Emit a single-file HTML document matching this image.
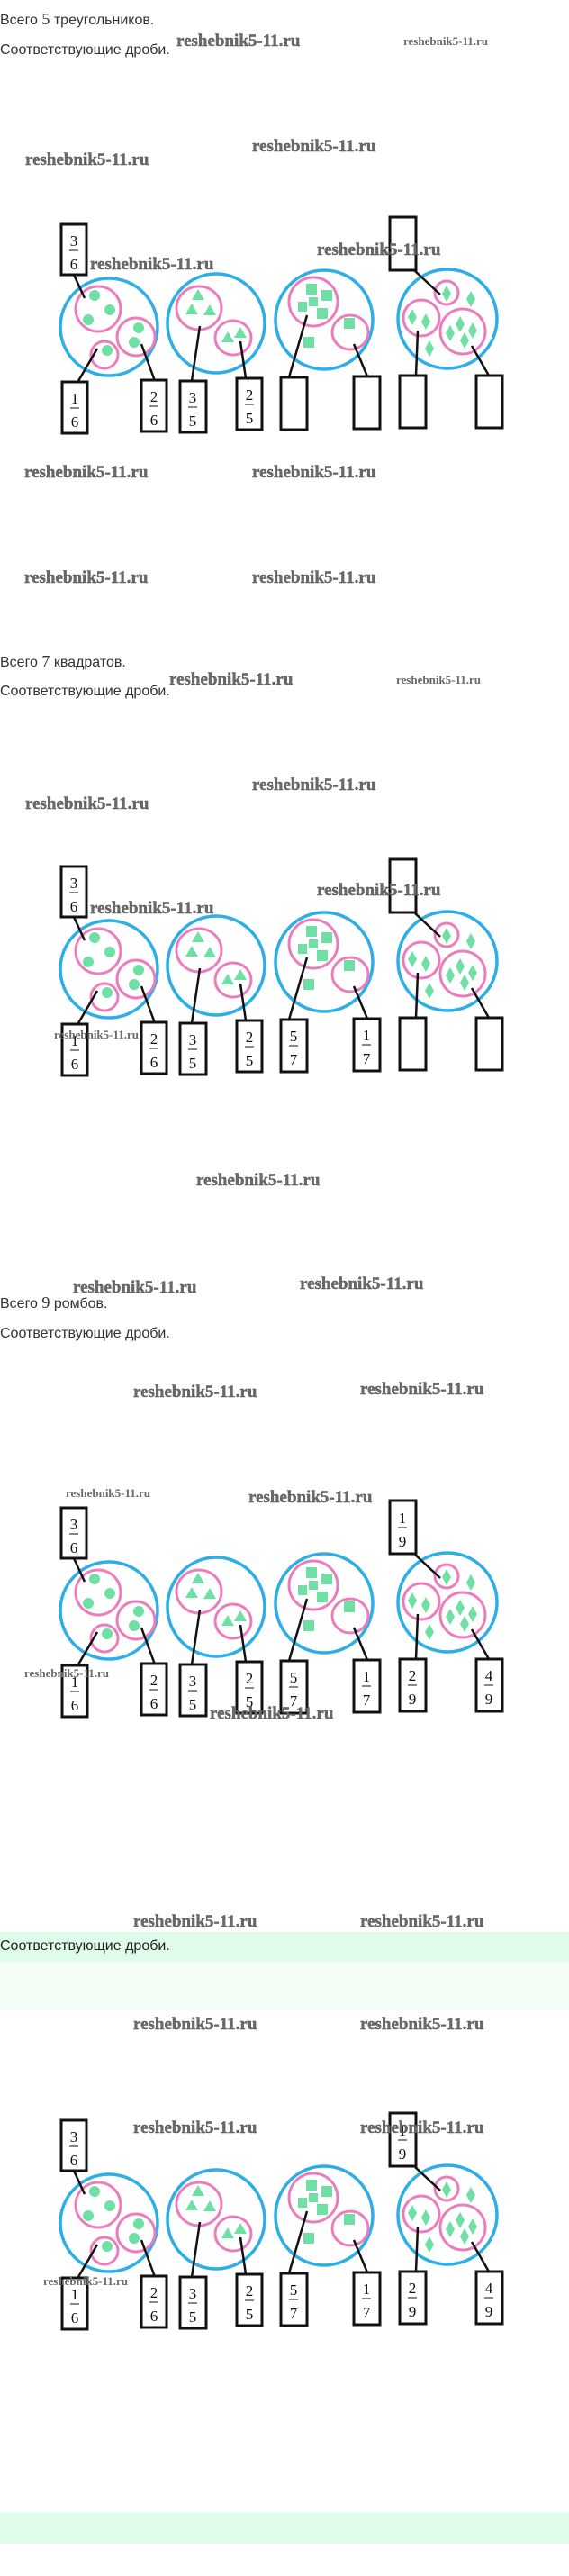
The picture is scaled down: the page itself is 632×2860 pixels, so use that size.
<!DOCTYPE html>
<html><head><meta charset="utf-8"><style>
html,body{margin:0;padding:0;background:#fff;}
svg{display:block;}
.h{font-family:"Liberation Sans","DejaVu Sans",sans-serif;font-size:16px;fill:#333;}
.n{font-family:"Liberation Serif",serif;font-size:18px;}
.wl{font-family:"Liberation Serif",serif;font-weight:bold;font-size:19px;fill:#6a6a6a;stroke:#555;stroke-width:0.4;}
.ws{font-family:"Liberation Serif",serif;font-weight:bold;font-size:13px;fill:#6a6a6a;}
.f{font-family:"Liberation Serif",serif;font-size:17px;fill:#111;text-anchor:middle;}
</style></head><body>
<svg width="632" height="2860" viewBox="0 0 632 2860" xmlns="http://www.w3.org/2000/svg">
<defs>
<g id="art">
  <g fill="none" stroke="#2eaee6" stroke-width="3.5">
    <ellipse cx="121" cy="0" rx="54" ry="54"/>
    <ellipse cx="240" cy="-4" rx="54" ry="55"/>
    <ellipse cx="360" cy="-8" rx="54" ry="55"/>
    <ellipse cx="497" cy="-9" rx="55" ry="55"/>
  </g>
  <g fill="none" stroke="#ec7dbd" stroke-width="3">
    <ellipse cx="109" cy="-20" rx="25" ry="25"/>
    <ellipse cx="151" cy="11" rx="21" ry="21"/>
    <ellipse cx="116" cy="31" rx="15" ry="15"/>
    <ellipse cx="221" cy="-21" rx="25" ry="24"/>
    <ellipse cx="259" cy="12" rx="20" ry="19"/>
    <ellipse cx="348" cy="-28" rx="27" ry="27"/>
    <ellipse cx="389" cy="6" rx="20" ry="19"/>
    <ellipse cx="496" cy="-38" rx="13" ry="13"/>
    <ellipse cx="468" cy="-10" rx="20" ry="20"/>
    <ellipse cx="514" cy="5" rx="25" ry="25"/>
  </g>
  <g fill="#6fe0a3">
    <circle cx="105" cy="-35" r="6"/><circle cx="122" cy="-19" r="6"/><circle cx="98" cy="-8" r="6"/>
    <circle cx="154" cy="1" r="6"/><circle cx="149" cy="17" r="6"/><circle cx="119" cy="26" r="6"/>
    <polygon points="220,-42 227,-30 213,-30"/><polygon points="213,-26 220,-14 206,-14"/><polygon points="233,-25 240,-13 226,-13"/>
    <polygon points="253,5 260,17 246,17"/><polygon points="267,0 274,12 260,12"/>
    <rect x="340" y="-48" width="12" height="12"/><rect x="357" y="-41" width="12" height="12"/>
    <rect x="343" y="-33" width="10" height="10"/><rect x="331" y="-28" width="10" height="11"/>
    <rect x="352" y="-21" width="12" height="12"/><rect x="337" y="11" width="12" height="12"/>
    <rect x="382" y="-10" width="12" height="12"/>
    <polygon points="496,-46 501,-37 496,-28 491,-37"/><polygon points="523,-40 528,-31 523,-22 518,-31"/>
    <polygon points="458,-20 463,-11 458,-2 453,-11"/><polygon points="473,-15 478,-6 473,3 468,-6"/>
    <polygon points="477,15 482,24 477,33 472,24"/><polygon points="500,-2 505,7 500,16 495,7"/>
    <polygon points="511,-12 516,-3 511,6 506,-3"/><polygon points="525,-5 530,4 525,13 520,4"/>
    <polygon points="516,6 521,15 516,24 511,15"/>
  </g>
  <g stroke="#111" stroke-width="2.5" fill="none">
    <line x1="82" y1="-58" x2="94" y2="-32"/>
    <line x1="108" y1="24" x2="87" y2="60"/>
    <line x1="157" y1="19" x2="172" y2="60"/>
    <line x1="222" y1="-1" x2="213" y2="60"/>
    <line x1="267" y1="16" x2="273" y2="57"/>
    <line x1="341" y1="-13" x2="321" y2="56"/>
    <line x1="393" y1="19" x2="408" y2="55"/>
    <line x1="460" y1="-63" x2="489" y2="-36"/>
    <line x1="464" y1="4" x2="462" y2="54"/>
    <line x1="524" y1="21" x2="543" y2="54"/>
  </g>
  <g stroke="#111" stroke-width="3" fill="#fff">
    <rect x="68" y="-114" width="28" height="56"/>
    <rect x="433" y="-122" width="29" height="59"/>
    <rect x="69" y="61" width="28" height="57"/>
    <rect x="157" y="59" width="28" height="57"/>
    <rect x="200" y="60" width="29" height="57"/>
    <rect x="263" y="57" width="28" height="57"/>
    <rect x="312" y="56" width="29" height="58"/>
    <rect x="393" y="55" width="29" height="58"/>
    <rect x="444" y="54" width="29" height="58"/>
    <rect x="529" y="54" width="29" height="58"/>
  </g>
</g>
<g id="fa">
  <g class="f">
    <text x="82" y="-90">3</text><text x="82" y="-64">6</text>
    <text x="83" y="85">1</text><text x="83" y="111">6</text>
    <text x="171" y="83">2</text><text x="171" y="109">6</text>
    <text x="214" y="84">3</text><text x="214" y="110">5</text>
    <text x="277" y="81">2</text><text x="277" y="107">5</text>
  </g>
  <g stroke="#111" stroke-width="1">
    <line x1="77" y1="-85" x2="87" y2="-85"/><line x1="78" y1="90" x2="88" y2="90"/>
    <line x1="166" y1="88" x2="176" y2="88"/><line x1="209" y1="89" x2="219" y2="89"/>
    <line x1="272" y1="86" x2="282" y2="86"/>
  </g>
</g>
<g id="fb">
  <g class="f">
    <text x="326" y="80">5</text><text x="326" y="106">7</text>
    <text x="407" y="79">1</text><text x="407" y="105">7</text>
  </g>
  <g stroke="#111" stroke-width="1">
    <line x1="321" y1="85" x2="331" y2="85"/><line x1="402" y1="84" x2="412" y2="84"/>
  </g>
</g>
<g id="fc">
  <g class="f">
    <text x="458" y="78">2</text><text x="458" y="104">9</text>
    <text x="543" y="78">4</text><text x="543" y="104">9</text>
    <text x="447" y="-97">1</text><text x="447" y="-71">9</text>
  </g>
  <g stroke="#111" stroke-width="1">
    <line x1="453" y1="83" x2="463" y2="83"/><line x1="538" y1="83" x2="548" y2="83"/>
    <line x1="442" y1="-92" x2="452" y2="-92"/>
  </g>
</g>
</defs>

<!-- bands -->
<rect x="0" y="2145" width="632" height="33" fill="#dffbe9"/>
<rect x="0" y="2178" width="632" height="54" fill="#f3fdf6"/>
<rect x="0" y="2790" width="632" height="34" fill="#dffbe9"/>

<!-- headings -->
<text class="h" x="0" y="27">Всего <tspan class="n">5</tspan> треугольников.</text>
<text class="h" x="0" y="60">Соответствующие дроби.</text>
<text class="h" x="0" y="740">Всего <tspan class="n">7</tspan> квадратов.</text>
<text class="h" x="0" y="772">Соответствующие дроби.</text>
<text class="h" x="0" y="1452">Всего <tspan class="n">9</tspan> ромбов.</text>
<text class="h" x="0" y="1485">Соответствующие дроби.</text>
<text class="h" x="0" y="2165" style="fill:#222">Соответствующие дроби.</text>

<!-- diagrams -->
<g transform="translate(0,363)"><use href="#art"/><use href="#fa"/></g>
<g transform="translate(0,1076)"><use href="#art"/><use href="#fa"/><use href="#fb"/></g>
<g transform="translate(0,1788)"><use href="#art"/><use href="#fa"/><use href="#fb"/><use href="#fc"/></g>
<g transform="translate(0,2468)"><use href="#art"/><use href="#fa"/><use href="#fb"/><use href="#fc"/></g>

<!-- watermarks -->
<g class="wl">
<text x="196" y="51">reshebnik5-11.ru</text>
<text x="280" y="168">reshebnik5-11.ru</text>
<text x="28" y="183">reshebnik5-11.ru</text>
<text x="100" y="299">reshebnik5-11.ru</text>
<text x="352" y="283">reshebnik5-11.ru</text>
<text x="27" y="530">reshebnik5-11.ru</text>
<text x="280" y="530">reshebnik5-11.ru</text>
<text x="27" y="647">reshebnik5-11.ru</text>
<text x="280" y="647">reshebnik5-11.ru</text>
<text x="188" y="760">reshebnik5-11.ru</text>
<text x="280" y="877">reshebnik5-11.ru</text>
<text x="28" y="898">reshebnik5-11.ru</text>
<text x="100" y="1014">reshebnik5-11.ru</text>
<text x="352" y="994">reshebnik5-11.ru</text>
<text x="218" y="1316">reshebnik5-11.ru</text>
<text x="81" y="1435">reshebnik5-11.ru</text>
<text x="333" y="1431">reshebnik5-11.ru</text>
<text x="148" y="1551">reshebnik5-11.ru</text>
<text x="400" y="1548">reshebnik5-11.ru</text>
<text x="276" y="1668">reshebnik5-11.ru</text>
<text x="233" y="1908">reshebnik5-11.ru</text>
<text x="148" y="2139">reshebnik5-11.ru</text>
<text x="400" y="2139">reshebnik5-11.ru</text>
<text x="148" y="2253">reshebnik5-11.ru</text>
<text x="400" y="2253">reshebnik5-11.ru</text>
<text x="148" y="2368">reshebnik5-11.ru</text>
<text x="400" y="2368">reshebnik5-11.ru</text>
</g>
<g class="ws">
<text x="448" y="50">reshebnik5-11.ru</text>
<text x="440" y="759">reshebnik5-11.ru</text>
<text x="60" y="1153">reshebnik5-11.ru</text>
<text x="73" y="1662">reshebnik5-11.ru</text>
<text x="27" y="1862">reshebnik5-11.ru</text>
<text x="48" y="2537">reshebnik5-11.ru</text>
</g>
</svg>
</body></html>
